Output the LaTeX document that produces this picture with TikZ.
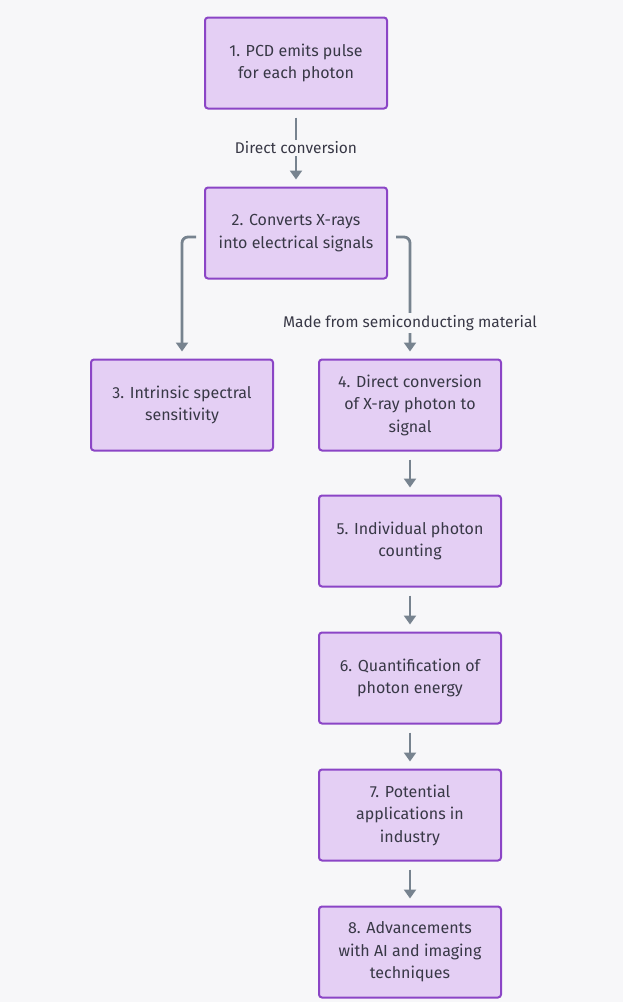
\documentclass[tikz,border=0pt]{standalone}
\usepackage{fontspec}
\setmainfont{Fira Sans}
\usetikzlibrary{arrows.meta,positioning}
\definecolor{bgc}{HTML}{F7F7F9}
\definecolor{boxfill}{HTML}{E4CFF4}
\definecolor{boxline}{HTML}{8B45C6}
\definecolor{arc}{HTML}{77838F}
\definecolor{txt}{HTML}{383846}
\tikzset{
  stepbox/.style={draw=boxline,line width=2pt,fill=boxfill,rounded corners=3pt,
    minimum width=182pt,minimum height=91pt,align=center,text=txt,
    font=\fontsize{16}{22.5}\selectfont},
  ar/.style={draw=arc,line width=2.8pt,-{Triangle[length=9pt,width=12pt]},
    shorten <=8pt,shorten >=7pt},
  lbl/.style={fill=bgc,text=txt,inner sep=2pt,font=\fontsize{15.5}{18}\selectfont},
}

\begin{document}
\begin{tikzpicture}[x=1pt,y=-1pt]
  \fill[bgc] (0,0) rectangle (623,1002);
  \useasboundingbox (0,0) rectangle (623,1002);
  \node[stepbox] (pcd) at (296,63) {1. PCD emits pulse\\for each photon};
  \node[stepbox] (conv) at (296,233) {2. Converts X-rays\\into electrical signals};
  \node[stepbox] (spec) at (182,405) {3. Intrinsic spectral\\sensitivity};
  \node[stepbox] (direct) at (410,405) {4. Direct conversion\\of X-ray photon to\\signal};
  \node[stepbox] (count) at (410,541) {5. Individual photon\\counting};
  \node[stepbox] (quant) at (410,678) {6. Quantification of\\photon energy};
  \node[stepbox] (app) at (410,815) {7. Potential\\applications in\\industry};
  \node[stepbox] (adv) at (410,952) {8. Advancements\\with AI and imaging\\techniques};
  % arrows
  \draw[ar] (pcd) -- node[lbl]{Direct conversion} (conv);
  \draw[ar,rounded corners=6pt,shorten <=0pt] ([xshift=-8pt,yshift=-4pt]conv.west) -| (spec);
  \draw[ar,rounded corners=6pt,shorten <=0pt] ([xshift=8pt,yshift=-4pt]conv.east) -| (direct);
  \node[lbl] (mat) at (410,323) {Made from semiconducting material};
  \draw[ar] (direct) -- (count);
  \draw[ar] (count) -- (quant);
  \draw[ar] (quant) -- (app);
  \draw[ar] (app) -- (adv);
\end{tikzpicture}
\end{document}
